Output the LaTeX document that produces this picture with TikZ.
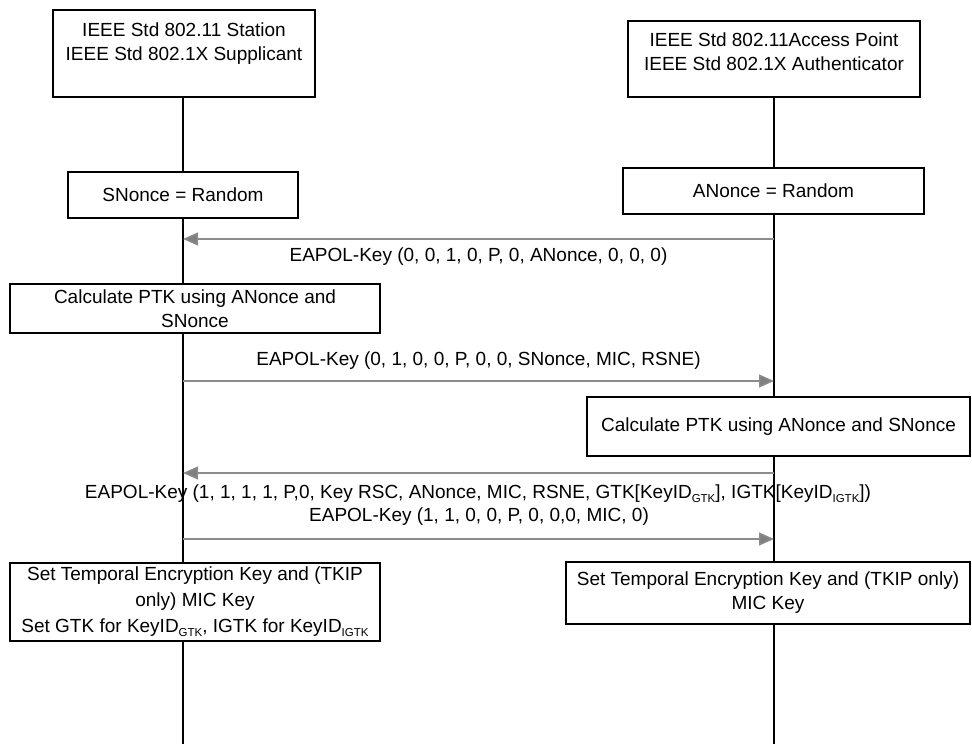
\documentclass[tikz,border=0pt]{standalone}
\usepackage{fontspec}
\setmainfont{Liberation Sans}
\usetikzlibrary{arrows.meta}
% small lowered index after KeyID
\newcommand\idsub[1]{\raisebox{-0.35ex}{\fontsize{11.5}{11.5}\selectfont #1}}

\begin{document}
\begin{tikzpicture}[x=1pt, y=-1pt, line join=miter,
  box/.style={draw=black, line width=1.6pt, fill=white, inner sep=0pt, align=center,
    font=\fontsize{19}{24}\selectfont},
  life/.style={draw=black, line width=1.4pt},
  msg/.style={draw=black!45, line width=1.4pt, -{Triangle[length=15pt, width=13pt, fill=black!50]}},
  msglabel/.style={inner sep=0pt, font=\fontsize{19}{24}\selectfont}]

  %% ════ lifelines (under the boxes) ════
  \coordinate (stop) at (183,97);  \coordinate (sbot) at (183,744);
  \coordinate (atop) at (774,97);  \coordinate (abot) at (774,744);
  \draw[life] (stop) -- (sbot);
  \draw[life] (atop) -- (abot);

  %% ════ boxes ════
  \node[box, minimum width=262, minimum height=87] (sta) at (184,53.5)
    {IEEE Std 802.11 Station\\IEEE Std 802.1X Supplicant\\\mbox{}};
  \node[box, minimum width=292, minimum height=76] (ap) at (774,59)
    {IEEE Std 802.11Access Point\\IEEE Std 802.1X Authenticator\\[-10pt]\mbox{}};
  \node[box, minimum width=230, minimum height=46] (snonce) at (183,195) {SNonce = Random};
  \node[box, minimum width=301, minimum height=46] (anonce) at (773.5,191) {ANonce = Random};
  \node[box, minimum width=370, minimum height=49] (sptk) at (195,308.5)
    {Calculate PTK using ANonce and\\SNonce};
  \node[box, minimum width=383, minimum height=59] (aptk) at (778.5,426.5)
    {Calculate PTK using ANonce and SNonce};
  \node[box, minimum width=370, minimum height=78, font=\fontsize{19}{26}\selectfont] (sset) at (195,602)
    {Set Temporal Encryption Key and (TKIP\\only) MIC Key\\Set GTK for KeyID\idsub{GTK}, IGTK for KeyID\idsub{IGTK}};
  \node[box, minimum width=404, minimum height=62] (aset) at (768,593)
    {Set Temporal Encryption Key and (TKIP only)\\MIC Key};

  %% ════ messages ════
  \coordinate (s1) at (183,239);  \coordinate (a1) at (774,239);
  \coordinate (s2) at (183,381);  \coordinate (a2) at (774,381);
  \coordinate (s3) at (183,473);  \coordinate (a3) at (774,473);
  \coordinate (s4) at (183,539);  \coordinate (a4) at (774,539);
  \draw[msg] (a1) -- (s1);
  \draw[msg] (s2) -- (a2);
  \draw[msg] (a3) -- (s3);
  \draw[msg] (s4) -- (a4);

  \node[msglabel] (m1) at (478.5,257) {EAPOL-Key (0, 0, 1, 0, P, 0, ANonce, 0, 0, 0)};
  \node[msglabel] (m2) at (478.5,361) {EAPOL-Key (0, 1, 0, 0, P, 0, 0, SNonce, MIC, RSNE)};
  \node[msglabel] (m3) at (478,494)
    {EAPOL-Key (1, 1, 1, 1, P,0, Key RSC, ANonce, MIC, RSNE, GTK[KeyID\idsub{GTK}], IGTK[KeyID\idsub{IGTK}])};
  \node[msglabel] (m4) at (479,517) {EAPOL-Key (1, 1, 0, 0, P, 0, 0,0, MIC, 0)};

  % fix the canvas to the reference size
  \pgfresetboundingbox
  \path[use as bounding box] (0,0) rectangle (972,744);
\end{tikzpicture}
\end{document}
